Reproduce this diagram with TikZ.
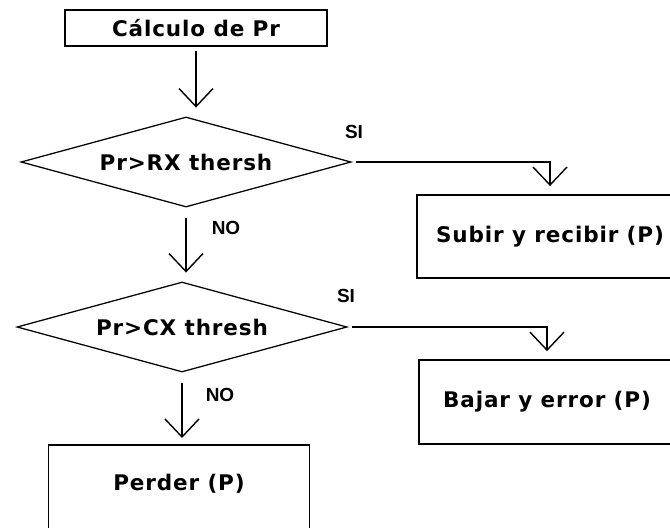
\documentclass[tikz,border=0pt]{standalone}
\usepackage{fontspec}
\setmainfont{DejaVu Sans}
\newfontfamily\boxfont[LetterSpace=4]{DejaVu Sans}
\newfontfamily\labelfont{Liberation Sans}
\usetikzlibrary{shapes.geometric, arrows.meta}

\begin{document}
\begin{tikzpicture}[
        x=0.025cm, y=-0.025cm,
        caja/.style={rectangle, draw=black, line width=1.2pt, fill=white, inner sep=0pt, align=center, font=\boxfont\bfseries\fontsize{15.3}{18}\selectfont},
        decision/.style={diamond, draw=black, line width=0.9pt, aspect=3.6, inner sep=0pt, minimum width=8.25cm, minimum height=2.25cm, font=\boxfont\bfseries\fontsize{15.3}{18}\selectfont},
        rotulo/.style={inner sep=0pt, font=\labelfont\bfseries\fontsize{13.5}{16}\selectfont},
        flecha/.style={line width=1pt, -{Straight Barb[length=0.45cm, width=0.85cm]}}
    ]
        \useasboundingbox (0,0) rectangle (670,527);
        \clip (0,0) rectangle (670,527);

        % Calculo
        \node[caja, minimum width=6.55cm, minimum height=0.9cm] (calc) at (196,28) {Cálculo de Pr};

        % Decisiones
        \node[decision] (rx) at (186,162) {Pr>RX thersh};
        \node[decision] (cx) at (182,327) {Pr>CX thresh};

        % Acciones
        \node[caja, minimum width=6.65cm, minimum height=2.08cm] (subir) at (550,236.5) {Subir y recibir (P)};
        \node[caja, minimum width=6.4cm, minimum height=2.1cm] (bajar) at (547,402) {Bajar y error (P)};
        \node[caja, anchor=north, minimum width=6.52cm, inner ysep=0.64cm, text height=0.5cm, text depth=2.12cm] (perder) at (179,444) {Perder (P)};

        % Conexiones
        \draw[flecha, shorten <=0.1cm, shorten >=0.22cm] (calc.south) -- (calc.south |- rx.north);
        \draw[flecha, shorten <=0.25cm, shorten >=0.22cm] (rx.south) -- (rx.south |- cx.north);
        \draw[flecha, shorten <=0.25cm, shorten >=0.15cm] (cx.south) -- (cx.south |- perder.north);
        \draw[flecha, shorten <=0.12cm, shorten >=0.2cm] (rx.east) -| (subir.north);
        \draw[flecha, shorten <=0.12cm, shorten >=0.2cm] (cx.east) -| (bajar.north);

        % Etiquetas
        \node[rotulo] (si1) at (354,132) {SI};
        \node[rotulo] (no1) at (226,228) {NO};
        \node[rotulo] (si2) at (346,296) {SI};
        \node[rotulo] (no2) at (220,395) {NO};
    \end{tikzpicture}
\end{document}
